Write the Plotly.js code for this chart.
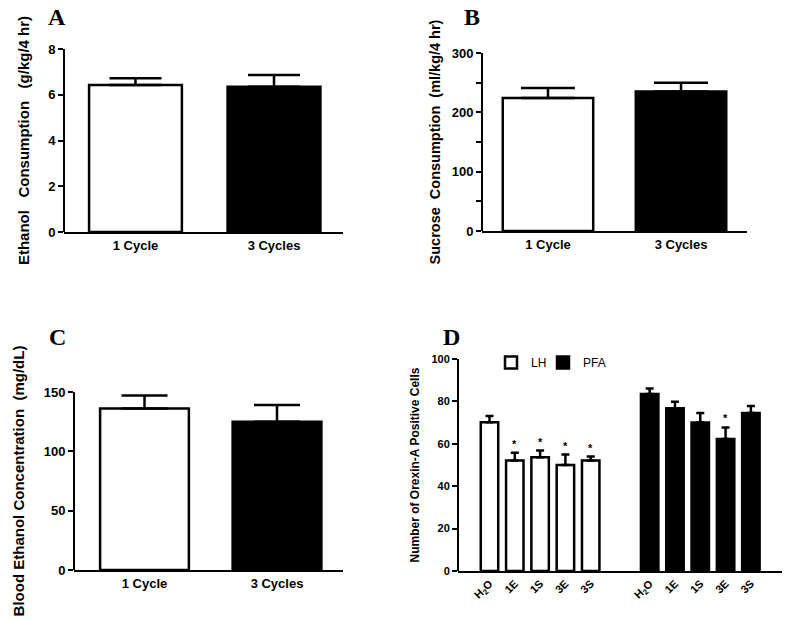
<!DOCTYPE html>
<html><head><meta charset="utf-8">
<script src="https://cdn.plot.ly/plotly-3.0.1.min.js"></script>
<style>body{margin:0;padding:0;background:#fff}#chart{width:790px;height:619px}</style>
</head><body><div id="chart"></div>
<script>
// ---- data ----
const cycleLabels = ["1 Cycle", "3 Cycles"];
const ethanolMean = [6.43, 6.35];
const ethanolSem = [0.29, 0.51];
const sucroseMean = [224, 235];
const sucroseSem = [17, 15];
const becMean = [136, 125];
const becSem = [11, 14];
const orexinLabels = ["H<sub>2</sub>O", "1E", "1S", "3E", "3S"];
const lhMean = [70.2, 52.1, 53.7, 50.0, 52.1];
const lhSem = [2.9, 3.7, 3.1, 4.9, 1.9];
const pfaMean = [83.5, 76.8, 70.0, 62.3, 74.5];
const pfaSem = [2.6, 3.0, 4.5, 5.4, 3.3];
const lhSig = [false, true, true, true, true];
const pfaSig = [false, false, false, true, false];

const W = 790, H = 619;
const dx = (a, b) => [a / W, b / W];
const dy = (top, bot) => [1 - bot / H, 1 - top / H];
const zeros = a => a.map(() => 0);
const fillColors = ["white", "black"];
const FONT = "Liberation Sans, Arial, sans-serif";

function barTrace(x, y, err, color, xa, ya, width, capw, name, showlegend, legend) {
  return {
    type: "bar", x: x, y: y, width: width, name: name, showlegend: showlegend,
    legend: legend || "legend",
    xaxis: xa, yaxis: ya,
    marker: {color: color, line: {color: "black", width: 2.5}},
    error_y: {type: "data", symmetric: false, array: err, arrayminus: zeros(err),
              color: "black", thickness: 2.5, width: capw},
    hoverinfo: "skip"
  };
}

const idx2 = cycleLabels.map((_, i) => i);
const lhX = orexinLabels.map((_, i) => i);
const pfaOffset = 6.33;
const pfaX = orexinLabels.map((_, i) => i + pfaOffset);

const traces = [
  barTrace(idx2, ethanolMean, ethanolSem, fillColors, "x", "y", 0.67, 26, "A", false),
  barTrace(idx2, sucroseMean, sucroseSem, fillColors, "x2", "y2", 0.68, 27, "B", false),
  barTrace(idx2, becMean, becSem, fillColors, "x3", "y3", 0.67, 23, "C", false),
  barTrace(lhX, lhMean, lhSem, "white", "x4", "y4", 0.69, 4, "LH", true, "legend"),
  barTrace(pfaX, pfaMean, pfaSem, "black", "x4", "y4", 0.69, 4, "PFA", true, "legend2")
];

const tickFont = {family: FONT, size: 13, color: "black", weight: 700};
const smallTick = {family: FONT, size: 11, color: "black", weight: 700};
const titleFont = {family: FONT, size: 15, color: "black", weight: 700};

function yax(domain, range, dtick, title, font, tfont, standoff, extra) {
  return Object.assign({
    domain: domain, range: range, dtick: dtick, tick0: 0, anchor: "free",
    showline: true, linecolor: "black", linewidth: 2, ticks: "outside",
    ticklen: 5, tickwidth: 2, tickcolor: "black", showgrid: false, zeroline: false,
    tickfont: font, title: {text: title, font: tfont, standoff: standoff}, fixedrange: true
  }, extra || {});
}
function xax(domain, range, vals, text, font, extra) {
  return Object.assign({
    domain: domain, range: range, tickvals: vals, ticktext: text,
    showline: true, linecolor: "black", linewidth: 2, ticks: "",
    showgrid: false, zeroline: false, tickfont: font, fixedrange: true
  }, extra || {});
}
function leg(xpx) {
  return {orientation: "h", x: xpx / W, y: 1 - 348 / H, xanchor: "left", yanchor: "top",
          font: {family: FONT, size: 12, color: "black"}, bgcolor: "rgba(0,0,0,0)"};
}

const sp2 = "\u00a0\u00a0";
const sp3 = "\u00a0\u00a0\u00a0";
const xA = dx(64, 343), xB = dx(482, 747), xC = dx(74, 343), xD = dx(458, 782);
const layout = {
  width: W, height: H, margin: {l: 0, r: 0, t: 0, b: 0},
  paper_bgcolor: "white", plot_bgcolor: "rgba(0,0,0,0)",
  font: {family: FONT, color: "black"},
  bargap: 0,
  xaxis: xax(xA, [-0.516, 1.498], idx2, cycleLabels, tickFont, {anchor: "y"}),
  yaxis: yax(dy(49, 232), [0, 8], 2, "Ethanol" + sp3 + "Consumption" + sp3 + "(g/kg/4 hr)", tickFont, titleFont, 14, {position: xA[0]}),
  xaxis2: xax(xB, [-0.496, 1.496], idx2, cycleLabels, tickFont, {anchor: "y2"}),
  yaxis2: yax(dy(53, 231), [0, 300], 100, "Sucrose" + sp2 + "Consumption" + sp2 + "(ml/kg/4 hr)", tickFont,
              {family: FONT, size: 14.5, color: "black", weight: 700}, 7,
              {position: xB[0], minor: {dtick: 50, ticks: "outside", ticklen: 5, tickwidth: 2, tickcolor: "black", showgrid: false}}),
  xaxis3: xax(xC, [-0.532, 1.498], idx2, cycleLabels, tickFont, {anchor: "y3"}),
  yaxis3: yax(dy(392, 570), [0, 150], 50, "Blood Ethanol Concentration" + sp2 + "(mg/dL)", tickFont, titleFont, 14, {position: xC[0]}),
  xaxis4: xax(xD, [-1.245, 11.56], lhX.concat(pfaX), orexinLabels.concat(orexinLabels), smallTick, {anchor: "y4", tickangle: -45}),
  yaxis4: yax(dy(359, 571), [0, 100], 20, "Number of Orexin-A Positive Cells", smallTick,
              {family: FONT, size: 12, color: "black", weight: 700}, 8, {position: xD[0]}),
  legend: leg(491),
  legend2: leg(543),
  annotations: []
};

const letters = [["A", 57, 17], ["B", 472, 17], ["C", 57, 337], ["D", 451, 337]];
letters.forEach(l => layout.annotations.push({
  text: l[0], xref: "paper", yref: "paper", x: l[1] / W, y: 1 - l[2] / H,
  xanchor: "center", yanchor: "middle", showarrow: false,
  font: {family: "Liberation Serif, Times New Roman, serif", size: 24, color: "black", weight: 700}
}));
function stars(xs, means, sems, sig) {
  xs.forEach((x, i) => {
    if (sig[i]) layout.annotations.push({
      text: "*", xref: "x4", yref: "y4", x: x, y: means[i] + sems[i],
      xanchor: "center", yanchor: "bottom", yshift: 1, showarrow: false,
      font: {family: FONT, size: 11, color: "black", weight: 700}
    });
  });
}
stars(lhX, lhMean, lhSem, lhSig);
stars(pfaX, pfaMean, pfaSem, pfaSig);

Plotly.newPlot("chart", traces, layout, {staticPlot: true, displayModeBar: false});
</script></body></html>
